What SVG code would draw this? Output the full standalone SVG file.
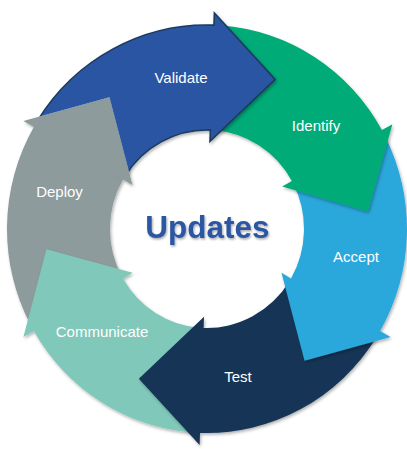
<svg xmlns="http://www.w3.org/2000/svg" width="407" height="449" viewBox="0 0 407 449">
  <defs>
    <filter id="soft" x="-20%" y="-20%" width="140%" height="140%">
      <feDropShadow dx="1.2" dy="1.8" stdDeviation="1.6" flood-color="#000" flood-opacity="0.3"/>
    </filter>
    <filter id="titleShadow" x="-10%" y="-30%" width="120%" height="160%">
      <feDropShadow dx="1" dy="1.5" stdDeviation="1.2" flood-color="#000" flood-opacity="0.35"/>
    </filter>
    <!-- cuts the Deploy arrowhead out of the Validate arc so the head sits on top -->
    <mask id="underDeployHead" maskUnits="userSpaceOnUse" x="-260" y="-260" width="520" height="520">
      <rect x="-260" y="-260" width="520" height="520" fill="#fff"/>
      <polygon points="-183.60,-106 -97.54,-129.06 -74.48,-43" fill="#000"/>
    </mask>
    <style>
      .label { font-family: "Liberation Sans", Arial, sans-serif; font-size: 15px; fill: #ffffff; text-anchor: middle; }
      .title { font-family: "Liberation Sans", Arial, sans-serif; font-size: 31.5px; font-weight: bold; fill: #2C56A3; text-anchor: middle; }
    </style>
  </defs>

  <rect width="407" height="449" fill="#ffffff"/>

  <!-- ring of six arc arrows, centred at (207,229) -->
  <g id="cycle" transform="translate(207,229) scale(1,1.02)">
    <g id="deploy">
      <path filter="url(#soft)" fill="#8D9B9C" d="M -176.59 93.89 A 200 200 0 0 1 -173.21 -100 L -183.60 -106 L -97.54 -129.06 L -74.48 -43 L -84.00 -48.5 A 97 97 0 0 0 -85.65 45.54 Z"/>
    </g>
    <g id="communicate">
      <path filter="url(#soft)" fill="#80C8BA" d="M -13.95 199.51 A 200 200 0 0 1 -173.21 100 L -183.60 106 L -160.54 19.94 L -74.48 43 L -84.00 48.5 A 97 97 0 0 0 -6.77 96.76 Z"/>
    </g>
    <g id="test">
      <path filter="url(#soft)" fill="#153657" d="M 169.61 105.98 A 200 200 0 0 1 -6.98 199.88 L -7.40 211.87 L -68.16 146.71 L -3.00 85.95 L -3.39 96.94 A 97 97 0 0 0 82.26 51.40 Z"/>
    </g>
    <g id="accept">
      <path filter="url(#soft)" fill="#2CA7DB" d="M 178.20 -90.80 A 200 200 0 0 1 173.21 100 L 183.60 106 L 97.54 129.06 L 74.48 43 L 84.00 48.5 A 97 97 0 0 0 86.43 -44.04 Z"/>
    </g>
    <g id="identify">
      <path filter="url(#soft)" fill="#00AB78" d="M 13.95 -199.51 A 200 200 0 0 1 174.92 -96.96 L 185.42 -102.78 L 160.86 -17.14 L 75.22 -41.69 L 84.84 -47.03 A 97 97 0 0 0 6.77 -96.76 Z"/>
    </g>
    <g id="validate" mask="url(#underDeployHead)">
      <path filter="url(#soft)" fill="#2C55A2" stroke="#1B3A60" stroke-width="1.6" stroke-linejoin="miter" d="M -169.61 -105.98 A 200 200 0 0 1 6.98 -199.88 L 7.40 -211.87 L 68.16 -146.71 L 3.00 -85.95 L 3.39 -96.94 A 97 97 0 0 0 -82.26 -51.40 Z"/>
    </g>
  </g>

  <!-- step labels -->
  <g id="labels">
    <text class="label" x="181" y="83">Validate</text>
    <text class="label" x="316" y="131">Identify</text>
    <text class="label" x="356" y="262">Accept</text>
    <text class="label" x="238" y="382">Test</text>
    <text class="label" x="102" y="337">Communicate</text>
    <text class="label" x="59.5" y="197">Deploy</text>
  </g>

  <text id="title" class="title" x="207.5" y="238" filter="url(#titleShadow)">Updates</text>
</svg>
